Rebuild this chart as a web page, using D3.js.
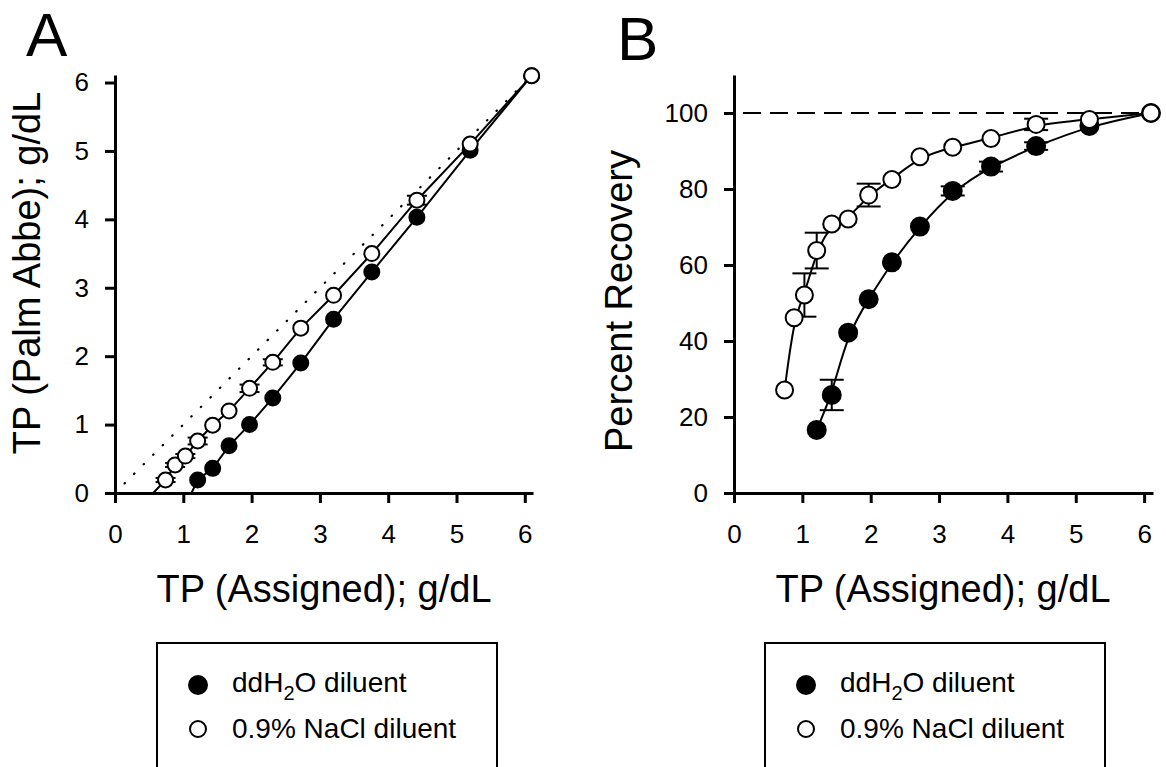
<!DOCTYPE html>
<html>
<head>
<meta charset="utf-8">
<script src="https://cdn.jsdelivr.net/npm/d3@7/dist/d3.min.js"></script>
<style>
  body { margin: 0; background: #fff; }
  svg { display: block; font-family: "Liberation Sans", Arial, sans-serif; }
</style>
</head>
<body>
<div class="board"></div>
<script>
// assigned total protein of each dilution step, g/dL
var assignedTP = [0.74, 0.88, 1.03, 1.21, 1.43, 1.67, 1.97, 2.31, 2.72, 3.20, 3.76, 4.42, 5.20, 6.10];
// ddH2O series starts at the 4th dilution
var waterTP = assignedTP.slice(3);

// panel A: measured by refractometer
var waterMeasured = [0.19, 0.36, 0.69, 1.00, 1.39, 1.90, 2.54, 3.23, 4.03, 5.01, 6.10];
var salineMeasured = [0.19, 0.41, 0.54, 0.76, 0.99, 1.20, 1.53, 1.91, 2.41, 2.89, 3.50, 4.28, 5.10, 6.10];
var salineMeasuredErr = [0.03, 0.03, 0.03, 0.05, 0, 0, 0.055, 0.045, 0, 0, 0, 0.065, 0, 0];
// x where the connecting lines meet the x axis
var waterLineStart = 1.12;
var salineLineStart = 0.56;

// panel B: percent recovery
var waterRecovery = [16.6, 25.8, 42.2, 51.0, 60.7, 70.1, 79.5, 85.9, 91.3, 96.6, 100];
var waterRecoveryErr = [0, 4.0, 0, 0, 0, 0, 1.2, 1.3, 1.0, 0, 0];
var salineRecovery = [27.1, 46.1, 52.1, 63.8, 70.8, 72.1, 78.4, 82.5, 88.5, 91.0, 93.3, 97.0, 98.3, 100];
var salineRecoveryErr = [0, 0, 5.7, 4.7, 0, 0, 3.0, 0, 0, 0, 0, 1.5, 0, 0];

var ticksTP = [0, 1, 2, 3, 4, 5, 6];
var ticksRecovery = [0, 20, 40, 60, 80, 100];
var legendLabels = ['ddH2O diluent', '0.9% NaCl diluent'];

var svg = d3.select('.board')
  .append('svg')
  .attr('width', 1166)
  .attr('height', 767);

function pts(xs, ys, es){
  return xs.map(function(x, i){ return {x: x, y: ys[i], e: es ? es[i] : 0}; });
}

function drawAxes(x, y, yTicks){
  var gx = svg.append('g')
    .attr('transform', 'translate(0,' + y.range()[0] + ')')
    .call(d3.axisBottom(x).tickValues(ticksTP).tickFormat(d3.format('d'))
      .tickSize(10).tickSizeOuter(0).tickPadding(22));
  var gy = svg.append('g')
    .attr('transform', 'translate(' + x.range()[0] + ',0)')
    .call(d3.axisLeft(y).tickValues(yTicks).tickFormat(d3.format('d'))
      .tickSize(10).tickSizeOuter(0).tickPadding(16));
  [gx, gy].forEach(function(g){
    g.selectAll('path, line').attr('stroke', '#000').attr('stroke-width', 3);
    g.selectAll('text').attr('font-size', 26).attr('fill', '#000')
      .attr('font-family', '"Liberation Sans", Arial, sans-serif');
  });
}

function drawSeries(x, y, data, filled, r, capW){
  var g = svg.append('g');
  var bars = data.filter(function(d){ return d.e > 0; });
  g.selectAll('line.bar').data(bars).enter().append('line')
    .attr('x1', function(d){ return x(d.x); })
    .attr('x2', function(d){ return x(d.x); })
    .attr('y1', function(d){ return y(d.y - d.e); })
    .attr('y2', function(d){ return y(d.y + d.e); })
    .attr('stroke', '#000').attr('stroke-width', 2);
  [-1, 1].forEach(function(s){
    g.selectAll('line.cap' + s).data(bars).enter().append('line')
      .attr('x1', function(d){ return x(d.x) - capW; })
      .attr('x2', function(d){ return x(d.x) + capW; })
      .attr('y1', function(d){ return y(d.y + s * d.e); })
      .attr('y2', function(d){ return y(d.y + s * d.e); })
      .attr('stroke', '#000').attr('stroke-width', 2);
  });
  g.selectAll('circle').data(data).enter().append('circle')
    .attr('cx', function(d){ return x(d.x); })
    .attr('cy', function(d){ return y(d.y); })
    .attr('r', r)
    .style('fill', filled ? '#000' : '#fff')
    .attr('stroke', '#000').attr('stroke-width', 2);
}

function drawLine(x, y, data, curve){
  var line = d3.line()
    .x(function(d){ return x(d.x); })
    .y(function(d){ return y(d.y); })
    .curve(curve);
  svg.append('path')
    .datum(data)
    .attr('d', line)
    .attr('fill', 'none')
    .attr('stroke', '#000')
    .attr('stroke-width', 2);
}

function label(text, x, y, size, rotate){
  svg.append('text')
    .attr('transform', 'translate(' + x + ',' + y + ')' + (rotate ? ' rotate(-90)' : ''))
    .attr('text-anchor', rotate === undefined ? 'start' : 'middle')
    .attr('font-size', size)
    .text(text);
}

// ---- panel A
var xA = d3.scaleLinear().domain([0, 6.12]).range([115, 533]);
var yA = d3.scaleLinear().domain([0, 6.11]).range([493, 75]);

svg.append('line')
  .attr('x1', xA(0)).attr('y1', yA(0))
  .attr('x2', xA(6.1)).attr('y2', yA(6.1))
  .attr('stroke', '#000').attr('stroke-width', 2.2)
  .attr('stroke-linecap', 'round')
  .attr('stroke-dasharray', '0.5,13');

var waterA = pts(waterTP, waterMeasured);
var salineA = pts(assignedTP, salineMeasured, salineMeasuredErr);
drawLine(xA, yA, [{x: waterLineStart, y: 0}].concat(waterA), d3.curveLinear);
drawLine(xA, yA, [{x: salineLineStart, y: 0}].concat(salineA), d3.curveLinear);
drawAxes(xA, yA, ticksTP);
drawSeries(xA, yA, waterA, true, 7.5, 10);
drawSeries(xA, yA, salineA, false, 7.5, 10);

// ---- panel B
var xB = d3.scaleLinear().domain([0, 6.13]).range([734, 1153]);
var yB = d3.scaleLinear().domain([0, 110]).range([493, 75]);

svg.append('line')
  .attr('x1', xB(0)).attr('y1', yB(100))
  .attr('x2', xB(6.1)).attr('y2', yB(100))
  .attr('stroke', '#000').attr('stroke-width', 2)
  .attr('stroke-dasharray', '18,9')
  .attr('stroke-dashoffset', -9);

var waterB = pts(waterTP, waterRecovery, waterRecoveryErr);
var salineB = pts(assignedTP, salineRecovery, salineRecoveryErr);
drawLine(xB, yB, waterB, d3.curveBasis);
drawLine(xB, yB, salineB, d3.curveBasis);
drawAxes(xB, yB, ticksRecovery);
drawSeries(xB, yB, waterB, true, 9, 12);
drawSeries(xB, yB, salineB, false, 8.5, 12);

// ---- titles and axis labels
label('A', 26, 56, 62);
label('B', 617, 60, 62);
label('TP (Assigned); g/dL', 324, 602, 38, false);
label('TP (Assigned); g/dL', 943, 602, 38, false);
label('TP (Palm Abbe); g/dL', 40, 273, 38, true);
label('Percent Recovery', 632, 301, 38, true);

// ---- legends
[157, 765].forEach(function(left){
  var g = svg.append('g').attr('transform', 'translate(' + left + ',643)');
  g.append('rect')
    .attr('width', 340).attr('height', 200)
    .attr('fill', '#fff').attr('stroke', '#000').attr('stroke-width', 2);
  g.append('circle').attr('cx', 41).attr('cy', 42).attr('r', 10).style('fill', '#000');
  g.append('circle').attr('cx', 41).attr('cy', 86).attr('r', 8)
    .style('fill', '#fff').attr('stroke', '#000').attr('stroke-width', 2);
  var t1 = g.append('text').attr('x', 75).attr('y', 49).attr('font-size', 28);
  t1.append('tspan').text(legendLabels[0].slice(0, 3));
  t1.append('tspan').attr('font-size', 20).attr('dy', 8).text(legendLabels[0].slice(3, 4));
  t1.append('tspan').attr('dy', -8).text(legendLabels[0].slice(4));
  g.append('text').attr('x', 75).attr('y', 95).attr('font-size', 28).text(legendLabels[1]);
});
</script>
</body>
</html>
